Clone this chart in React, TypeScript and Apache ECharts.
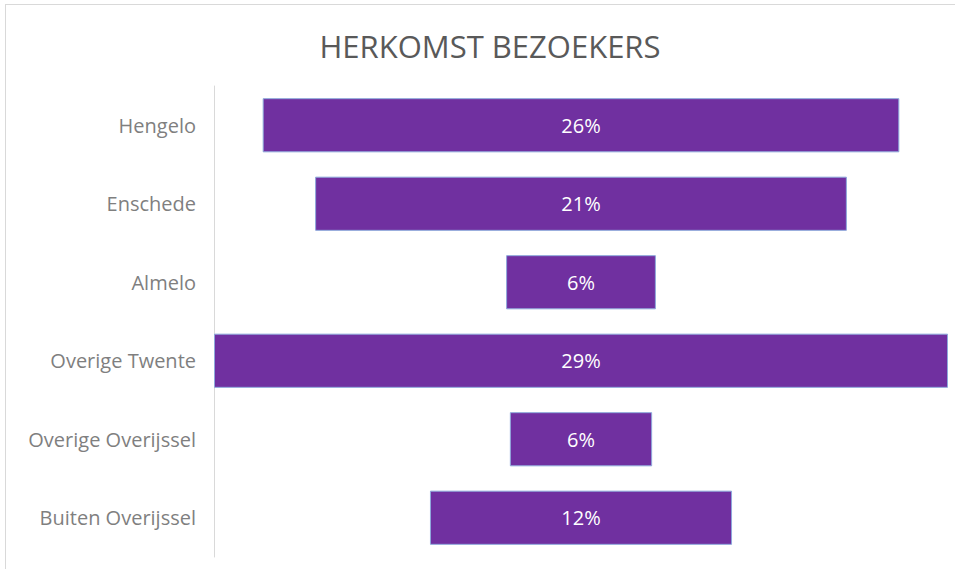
import React, { useEffect, useRef } from "react";
import * as echarts from "echarts";

const categories = ["Hengelo", "Enschede", "Almelo", "Overige Twente", "Overige Overijssel", "Buiten Overijssel"];
const shares = [25.5, 21.3, 6.0, 29.4, 5.7, 12.1];
const titleText = "HERKOMST BEZOEKERS";

export default function App() {
  const ref = useRef<HTMLDivElement>(null);
  useEffect(() => {
    document.body.style.margin = "0";
    const chart = echarts.init(ref.current!, null, { renderer: "svg" });
    const maxV = Math.max(...shares);
    const offsets = shares.map((v) => (maxV - v) / 2);
    chart.setOption({
      animation: false,
      backgroundColor: "#ffffff",
      title: {
        text: titleText,
        left: 485,
        textAlign: "center",
        top: 25,
        textStyle: { fontFamily: "Open Sans", fontSize: 31, fontWeight: "normal", color: "#595959" },
      },
      graphic: [
        { type: "line", shape: { x1: 5, y1: 4.5, x2: 955, y2: 4.5 }, style: { stroke: "#d9d9d9", lineWidth: 1 } },
        { type: "line", shape: { x1: 5.5, y1: 4, x2: 5.5, y2: 569 }, style: { stroke: "#d9d9d9", lineWidth: 1 } },
      ],
      grid: { left: 214, right: 7, top: 86, bottom: 12, containLabel: false },
      xAxis: { type: "value", min: 0, max: maxV, show: false },
      yAxis: {
        type: "category",
        data: categories,
        inverse: true,
        axisLine: { show: true, lineStyle: { color: "#d9d9d9", width: 1 } },
        axisTick: { show: false },
        axisLabel: { fontFamily: "Open Sans", fontSize: 20, color: "#7f7f7f", margin: 18 },
      },
      series: [
        {
          type: "bar",
          stack: "f",
          data: offsets,
          itemStyle: { color: "transparent" },
          barCategoryGap: "31%",
          silent: true,
        },
        {
          type: "bar",
          stack: "f",
          data: shares,
          barCategoryGap: "31%",
          itemStyle: { color: "#7030A0", borderColor: "#8EA9DB", borderWidth: 1 },
          label: {
            show: true,
            position: "inside",
            formatter: (p: any) => Math.round(p.value) + "%",
            fontFamily: "Open Sans",
            fontSize: 20,
            color: "#ffffff",
          },
        },
      ],
    });
    return () => chart.dispose();
  }, []);
  return <div ref={ref} style={{ position: "fixed", left: 0, top: 0, width: 955, height: 569 }} />;
}
